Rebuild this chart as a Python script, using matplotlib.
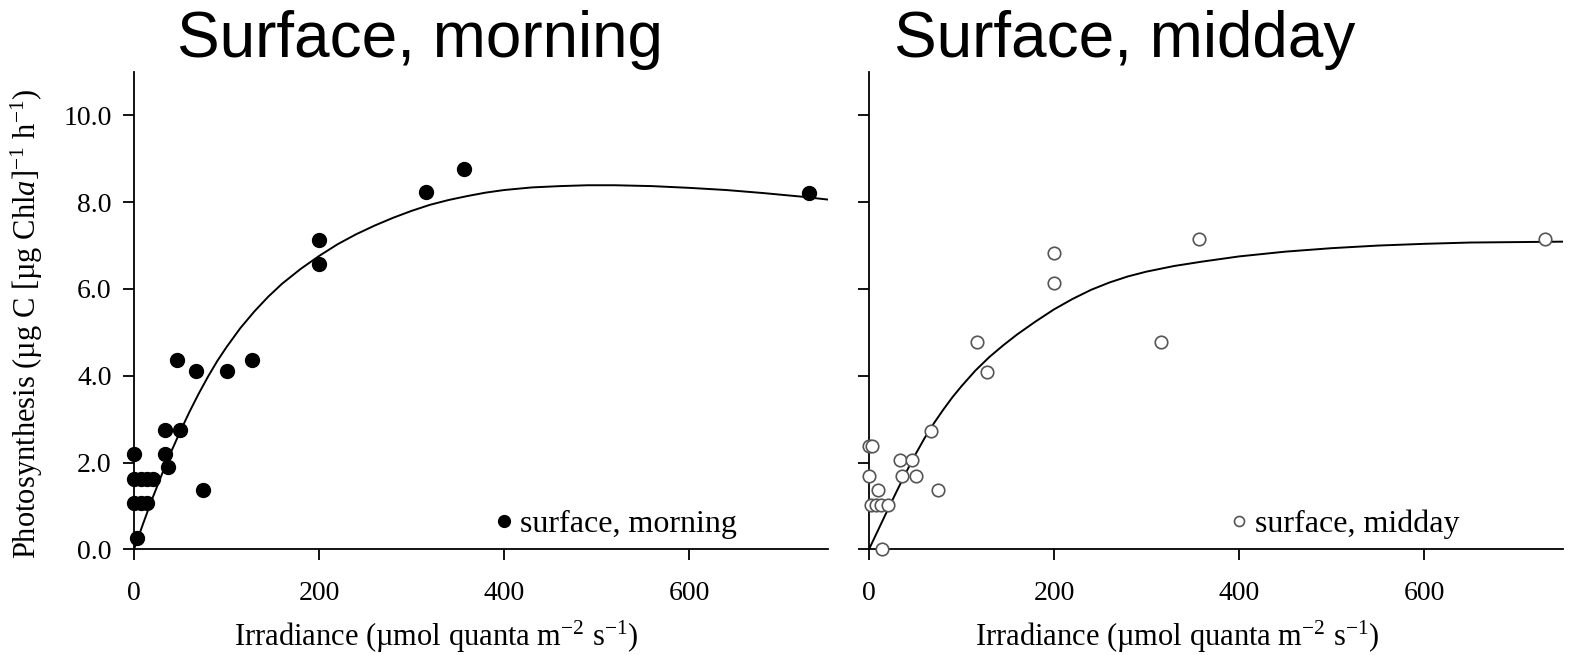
import matplotlib.pyplot as plt
import matplotlib as mpl

mpl.rcParams["font.family"] = ["Liberation Serif", "DejaVu Serif"]
mpl.rcParams["mathtext.fontset"] = "custom"
mpl.rcParams["mathtext.rm"] = "Liberation Serif"
mpl.rcParams["mathtext.it"] = "Liberation Serif:italic"

# --- data ---
morning_x = [0, 0, 8, 14, 20, 0, 8, 14, 3, 34, 50, 33, 37, 75, 46, 67, 100, 127, 200, 200, 316, 357, 730]
morning_y = [2.19, 1.63, 1.63, 1.63, 1.63, 1.07, 1.07, 1.07, 0.25, 2.74, 2.74, 2.19, 1.90, 1.36,
             4.37, 4.11, 4.11, 4.37, 7.13, 6.57, 8.24, 8.77, 8.22]

midday_x = [0, 3, 0, 10, 2, 8, 13, 20, 14, 34, 46, 36, 51, 67, 75, 117, 127, 200, 200, 316, 357, 731]
midday_y = [2.37, 2.37, 1.69, 1.36, 1.01, 1.01, 1.01, 1.01, 0.0, 2.05, 2.05, 1.69, 1.69, 2.72, 1.36,
            4.77, 4.08, 6.82, 6.13, 4.77, 7.16, 7.15]

# fitted P-I curves
fit_morning_x = [0, 10, 20, 30, 40, 50, 60, 70, 80, 90, 100, 115, 130, 145, 160, 180, 200, 220, 240,
                 260, 280, 300, 320, 340, 360, 380, 400, 430, 460, 490, 520, 560, 600, 640, 680, 720, 750]
fit_morning_y = [0.0, 0.6, 1.18, 1.72, 2.24, 2.72, 3.17, 3.59, 3.98, 4.34, 4.66, 5.1, 5.48, 5.82, 6.12,
                 6.46, 6.76, 7.03, 7.26, 7.46, 7.64, 7.8, 7.94, 8.05, 8.14, 8.22, 8.28, 8.34, 8.37, 8.39,
                 8.39, 8.37, 8.33, 8.28, 8.21, 8.13, 8.06]

fit_midday_x = [0, 10, 20, 30, 40, 50, 60, 70, 80, 90, 100, 115, 130, 145, 160, 180, 200, 220, 240,
                260, 280, 300, 330, 360, 400, 450, 500, 550, 600, 650, 700, 750]
fit_midday_y = [0.0, 0.45, 0.9, 1.34, 1.77, 2.18, 2.56, 2.9, 3.21, 3.5, 3.76, 4.12, 4.43, 4.7, 4.95,
                5.25, 5.53, 5.77, 5.98, 6.15, 6.29, 6.4, 6.53, 6.63, 6.75, 6.86, 6.94, 7.0, 7.04, 7.07,
                7.08, 7.09]

x_ticks = [0, 200, 400, 600]
y_ticks = [0, 2, 4, 6, 8, 10]

xlabel = r"Irradiance (µmol quanta m$^{-2}$ s$^{-1}$)"

fig = plt.figure(figsize=(15.72, 6.55), dpi=100)
ax1 = fig.add_axes([134 / 1572, 105.7 / 655, 694 / 1572, 477.3 / 655])
ax2 = fig.add_axes([869 / 1572, 105.7 / 655, 694 / 1572, 477.3 / 655])

for ax in (ax1, ax2):
    ax.set_xlim(0, 750)
    ax.set_ylim(0, 11)
    ax.spines["top"].set_visible(False)
    ax.spines["right"].set_visible(False)
    ax.spines["left"].set_linewidth(1.3)
    ax.spines["bottom"].set_linewidth(1.3)
    ax.set_xticks(x_ticks)
    ax.set_yticks(y_ticks)
    ax.tick_params(direction="out", length=8, width=1.3, labelsize=20)
    ax.tick_params(axis="x", pad=15)
    ax.tick_params(axis="y", pad=8)
    ax.set_xlabel(xlabel, fontsize=22, va="top")

ax1.xaxis.set_label_coords(0.435, -0.145)
ax2.xaxis.set_label_coords(0.444, -0.145)

ax1.set_yticklabels([f"{v:.1f}" for v in y_ticks])
ax2.set_yticklabels([])
ax1.set_ylabel(r"Photosynthesis (µg C [µg Chl$\mathit{a}$]$^{-1}$ h$^{-1}$)", fontsize=22)
ax1.yaxis.set_label_coords(-0.128, 0.472)

# left panel
ax1.plot(fit_morning_x, fit_morning_y, color="black", lw=1.4, zorder=2)
ax1.plot(morning_x, morning_y, "o", ms=10, color="black", clip_on=False, zorder=3,
         label="surface, morning")
ax1.legend(loc="center left", bbox_to_anchor=(0.52, 0.053), frameon=False, fontsize=23,
           handlelength=0.6, handletextpad=0.2, borderpad=0, borderaxespad=0, markerscale=0.85)

# right panel
ax2.plot(fit_midday_x, fit_midday_y, color="black", lw=1.4, zorder=2)
ax2.plot(midday_x, midday_y, "o", ms=9, mfc="white", mec="#555555", mew=1.2, clip_on=False, zorder=3,
         label="surface, midday")
ax2.legend(loc="center left", bbox_to_anchor=(0.52, 0.053), frameon=False, fontsize=23,
           handlelength=0.6, handletextpad=0.2, borderpad=0, borderaxespad=0, markerscale=0.8)

# panel titles
fig.text(420 / 1572, 1 - 40 / 655, "Surface, morning", fontsize=46, family="Liberation Sans",
         ha="center", va="center")
fig.text(1125 / 1572, 1 - 40 / 655, "Surface, midday", fontsize=46, family="Liberation Sans",
         ha="center", va="center")

plt.savefig("out.png", dpi=100, facecolor="white")
